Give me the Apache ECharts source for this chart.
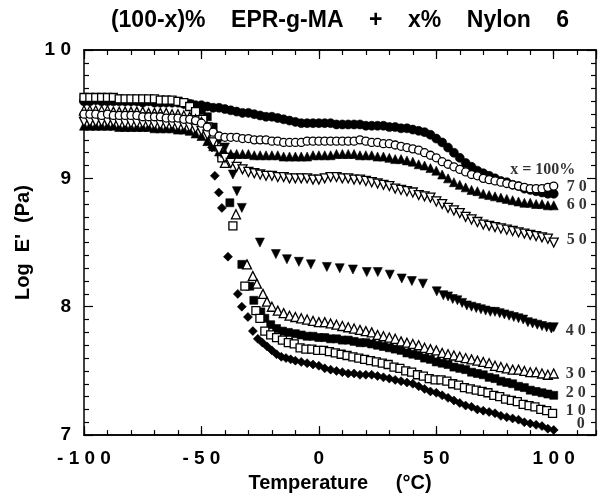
<!DOCTYPE html>
<html><head><meta charset="utf-8">
<script src="https://cdn.jsdelivr.net/npm/echarts@6/dist/echarts.min.js"></script>
<style>html,body{margin:0;padding:0;background:#fff}#c{width:604px;height:498px}</style>
</head><body><div id="c"></div>
<script>
// ---- data (temperature °C, log E' Pa) ----
const xTickLabels = [-100, -50, 0, 50, 100];
const yTickLabels = [7, 8, 9, 10];

const s100 = [[-100,9.60],[-97.5,9.60],[-95,9.61],[-92.5,9.60],[-90,9.60],[-87.5,9.60],[-85,9.60],[-82.5,9.60],[-80,9.60],[-77.5,9.60],[-75,9.59],[-72.5,9.60],[-70,9.59],[-67.5,9.59],[-65,9.59],[-62.5,9.59],[-60,9.59],[-57.5,9.58],[-55,9.58],[-52.5,9.57],[-50,9.57],[-47.5,9.56],[-45,9.55],[-42.5,9.55],[-40,9.54],[-37.5,9.53],[-35,9.52],[-32.5,9.51],[-30,9.51],[-27.5,9.50],[-25,9.49],[-22.5,9.48],[-20,9.48],[-17.5,9.47],[-15,9.46],[-12.5,9.45],[-10,9.44],[-7.5,9.43],[-5,9.43],[-2.5,9.43],[0,9.43],[2.5,9.43],[5,9.43],[7.5,9.42],[10,9.42],[12.5,9.42],[15,9.42],[17.5,9.42],[20,9.41],[22.5,9.41],[25,9.41],[27.5,9.41],[30,9.40],[32.5,9.40],[35,9.39],[37.5,9.39],[40,9.38],[42.5,9.37],[45,9.36],[47.5,9.34],[50,9.31],[52.5,9.28],[55,9.24],[57.5,9.20],[60,9.16],[62.5,9.12],[65,9.09],[67.5,9.06],[70,9.04],[72.5,9.02],[75,9.00],[77.5,8.98],[80,8.97],[82.5,8.95],[85,8.94],[87.5,8.92],[90,8.91],[92.5,8.90],[95,8.89],[97.5,8.88],[100,8.88]];

const s70 = [[-100,9.50],[-97.5,9.50],[-95,9.50],[-92.5,9.49],[-90,9.50],[-87.5,9.49],[-85,9.49],[-82.5,9.49],[-80,9.49],[-77.5,9.49],[-75,9.48],[-72.5,9.48],[-70,9.48],[-67.5,9.48],[-65,9.47],[-62.5,9.47],[-60,9.47],[-57.5,9.46],[-55,9.46],[-52.5,9.45],[-50,9.43],[-47.5,9.40],[-45,9.36],[-42.5,9.33],[-40,9.32],[-37.5,9.32],[-35,9.32],[-32.5,9.31],[-30,9.31],[-27.5,9.30],[-25,9.30],[-22.5,9.30],[-20,9.29],[-17.5,9.29],[-15,9.28],[-12.5,9.28],[-10,9.28],[-7.5,9.28],[-5,9.29],[-2.5,9.29],[0,9.29],[2.5,9.29],[5,9.29],[7.5,9.29],[10,9.29],[12.5,9.29],[15,9.29],[17.5,9.30],[20,9.29],[22.5,9.28],[25,9.28],[27.5,9.27],[30,9.27],[32.5,9.26],[35,9.25],[37.5,9.24],[40,9.23],[42.5,9.22],[45,9.20],[47.5,9.18],[50,9.16],[52.5,9.13],[55,9.11],[57.5,9.09],[60,9.07],[62.5,9.05],[65,9.03],[67.5,9.02],[70,9.00],[72.5,8.99],[75,8.98],[77.5,8.97],[80,8.96],[82.5,8.95],[85,8.94],[87.5,8.93],[90,8.92],[92.5,8.92],[95,8.92],[97.5,8.93],[100,8.94]];

const s60 = [[-100,9.41],[-97.5,9.41],[-95,9.41],[-92.5,9.41],[-90,9.41],[-87.5,9.41],[-85,9.40],[-82.5,9.40],[-80,9.40],[-77.5,9.40],[-75,9.40],[-72.5,9.40],[-70,9.39],[-67.5,9.39],[-65,9.39],[-62.5,9.39],[-60,9.38],[-57.5,9.38],[-55,9.37],[-52.5,9.35],[-50,9.33],[-47.5,9.29],[-45,9.25],[-42.5,9.21],[-40,9.20],[-37.5,9.19],[-35,9.19],[-32.5,9.19],[-30,9.19],[-27.5,9.18],[-25,9.18],[-22.5,9.18],[-20,9.18],[-17.5,9.18],[-15,9.17],[-12.5,9.17],[-10,9.17],[-7.5,9.17],[-5,9.17],[-2.5,9.18],[0,9.18],[2.5,9.18],[5,9.18],[7.5,9.19],[10,9.19],[12.5,9.19],[15,9.19],[17.5,9.18],[20,9.18],[22.5,9.18],[25,9.17],[27.5,9.17],[30,9.16],[32.5,9.15],[35,9.15],[37.5,9.14],[40,9.13],[42.5,9.11],[45,9.10],[47.5,9.08],[50,9.06],[52.5,9.03],[55,9.00],[57.5,8.97],[60,8.95],[62.5,8.93],[65,8.91],[67.5,8.90],[70,8.88],[72.5,8.87],[75,8.86],[77.5,8.85],[80,8.84],[82.5,8.83],[85,8.82],[87.5,8.81],[90,8.81],[92.5,8.80],[95,8.80],[97.5,8.79],[100,8.79]];

const s50 = [[-100,9.44],[-97.5,9.44],[-95,9.44],[-92.5,9.44],[-90,9.44],[-87.5,9.44],[-85,9.43],[-82.5,9.43],[-80,9.43],[-77.5,9.43],[-75,9.43],[-72.5,9.43],[-70,9.42],[-67.5,9.42],[-65,9.42],[-62.5,9.42],[-60,9.41],[-57.5,9.41],[-55,9.40],[-52.5,9.39],[-50,9.37],[-47.5,9.34],[-45,9.28],[-42.5,9.22],[-40,9.16],[-37.5,9.12],[-35,9.09],[-32.5,9.07],[-30,9.05],[-27.5,9.04],[-25,9.03],[-22.5,9.02],[-20,9.02],[-17.5,9.01],[-15,9.01],[-12.5,9.00],[-10,9.00],[-7.5,9.00],[-5,9.00],[-2.5,8.99],[0,8.99],[2.5,9.00],[5,9.01],[7.5,9.01],[10,9.00],[12.5,9.00],[15,8.99],[17.5,8.99],[20,8.98],[22.5,8.97],[25,8.96],[27.5,8.95],[30,8.94],[32.5,8.92],[35,8.91],[37.5,8.90],[40,8.89],[42.5,8.87],[45,8.86],[47.5,8.85],[50,8.82],[52.5,8.80],[55,8.77],[57.5,8.75],[60,8.73],[62.5,8.70],[65,8.68],[67.5,8.66],[70,8.64],[72.5,8.63],[75,8.62],[77.5,8.61],[80,8.60],[82.5,8.59],[85,8.58],[87.5,8.57],[90,8.56],[92.5,8.55],[95,8.54],[97.5,8.53],[100,8.50]];

const s40 = [[-100,9.46],[-97.5,9.46],[-95,9.46],[-92.5,9.46],[-90,9.46],[-87.5,9.46],[-85,9.45],[-82.5,9.45],[-80,9.45],[-77.5,9.45],[-75,9.45],[-72.5,9.45],[-70,9.45],[-67.5,9.44],[-65,9.44],[-62.5,9.44],[-60,9.44],[-57.5,9.43],[-55,9.43],[-52.5,9.42],[-50,9.40],[-47.5,9.37],[-45,9.33],[-42.5,9.29],[-40,9.24],[-37,9.16],[-36.6,9.03],[-34.9,8.90],[-32.8,8.77],[-25.1,8.50],[-18.3,8.41],[-13.6,8.37],[-8.5,8.35],[-3.4,8.33],[3.4,8.31],[8.9,8.30],[14.5,8.29],[20.4,8.27],[25.1,8.27],[30.2,8.25],[35.3,8.22],[39.6,8.20],[44.3,8.18],[50.2,8.12],[53,8.09],[55,8.08],[57,8.06],[59,8.05],[61,8.03],[63,8.01],[65,8.00],[67,7.99],[69,7.98],[71,7.97],[73,7.96],[75,7.96],[77,7.95],[79,7.94],[81,7.93],[83,7.92],[85,7.91],[87,7.90],[89,7.88],[91,7.87],[93,7.86],[95,7.85],[97,7.84],[99,7.83],[100,7.84]];

const s30 = [[-100,9.53],[-97.5,9.53],[-95,9.53],[-92.5,9.53],[-90,9.53],[-87.5,9.52],[-85,9.52],[-82.5,9.52],[-80,9.52],[-77.5,9.52],[-75,9.52],[-72.5,9.51],[-70,9.51],[-67.5,9.51],[-65,9.51],[-62.5,9.50],[-60,9.50],[-57.5,9.49],[-55,9.48],[-52.5,9.46],[-50,9.44],[-47.5,9.40],[-45,9.34],[-42.5,9.25],[-40,9.12],[-35.3,8.72],[-30.6,8.33],[-28.1,8.24],[-26.4,8.18],[-23.8,8.10],[-22.1,8.04],[-20,8.00],[-17.5,7.97],[-15,7.95],[-12.5,7.93],[-10,7.92],[-7.5,7.91],[-5,7.90],[-2.5,7.89],[0,7.88],[2.5,7.88],[5,7.87],[7.5,7.86],[10,7.85],[12.5,7.84],[15,7.83],[17.5,7.82],[20,7.81],[22.5,7.80],[25,7.78],[27.5,7.77],[30,7.76],[32.5,7.75],[35,7.73],[37.5,7.72],[40,7.71],[42.5,7.70],[45,7.68],[47.5,7.67],[50,7.66],[52.5,7.64],[55,7.63],[57.5,7.62],[60,7.61],[62.5,7.60],[65,7.59],[67.5,7.58],[70,7.57],[72.5,7.56],[75,7.54],[77.5,7.53],[80,7.52],[82.5,7.51],[85,7.51],[87.5,7.50],[90,7.49],[92.5,7.49],[95,7.48],[97.5,7.47],[100,7.48]];

const s20 = [[-100,9.62],[-97.5,9.62],[-95,9.62],[-92.5,9.62],[-90,9.62],[-87.5,9.62],[-85,9.62],[-82.5,9.61],[-80,9.61],[-77.5,9.61],[-75,9.61],[-72.5,9.61],[-70,9.61],[-67.5,9.61],[-65,9.61],[-62.5,9.60],[-60,9.60],[-57.5,9.59],[-55,9.58],[-52.5,9.56],[-50,9.53],[-47.5,9.48],[-45,9.40],[-41.5,9.19],[-37.9,8.81],[-32.8,8.33],[-29.4,8.16],[-27.7,8.05],[-24.7,7.96],[-23,7.91],[-20.5,7.86],[-18,7.83],[-15.5,7.81],[-13,7.80],[-10,7.79],[-7.5,7.78],[-5,7.77],[-2.5,7.77],[0,7.76],[2.5,7.76],[5,7.75],[7.5,7.75],[10,7.74],[12.5,7.74],[15,7.73],[17.5,7.72],[20,7.72],[22.5,7.71],[25,7.70],[27.5,7.69],[30,7.68],[32.5,7.67],[35,7.66],[37.5,7.64],[40,7.63],[42.5,7.62],[45,7.60],[47.5,7.59],[50,7.57],[52.5,7.56],[55,7.55],[57.5,7.53],[60,7.52],[62.5,7.51],[65,7.49],[67.5,7.48],[70,7.47],[72.5,7.45],[75,7.44],[77.5,7.42],[80,7.41],[82.5,7.40],[85,7.38],[87.5,7.37],[90,7.35],[92.5,7.34],[95,7.33],[97.5,7.32],[100,7.31]];

const s10 = [[-100,9.63],[-97.5,9.63],[-95,9.63],[-92.5,9.63],[-90,9.63],[-87.5,9.63],[-85,9.62],[-82.5,9.62],[-80,9.62],[-77.5,9.62],[-75,9.62],[-72.5,9.62],[-70,9.62],[-67.5,9.61],[-65,9.61],[-62.5,9.61],[-60,9.60],[-57.5,9.59],[-55,9.56],[-52.5,9.52],[-49.4,9.46],[-47.2,9.40],[-44.3,9.28],[-41.3,9.16],[-36.6,8.63],[-31.5,8.16],[-26.8,7.97],[-25.1,7.91],[-23,7.81],[-20.5,7.78],[-18,7.76],[-15.5,7.74],[-13,7.72],[-10.5,7.71],[-8,7.68],[-5.5,7.67],[-3,7.67],[-0.5,7.66],[2,7.66],[4.5,7.65],[7,7.64],[9.5,7.63],[12,7.62],[14.5,7.61],[17,7.60],[19.5,7.59],[22,7.58],[24.5,7.57],[27,7.56],[29.5,7.55],[32,7.53],[34.5,7.52],[37,7.50],[39.5,7.49],[42,7.47],[44.5,7.46],[47,7.44],[49.5,7.43],[52,7.43],[54.5,7.42],[57,7.40],[59.5,7.39],[62,7.37],[64.5,7.36],[67,7.35],[69.5,7.34],[72,7.33],[74.5,7.31],[77,7.30],[79.5,7.28],[82,7.27],[84.5,7.26],[87,7.24],[89.5,7.23],[92,7.22],[94.5,7.20],[97,7.19],[99.5,7.17]];

const s0 = [[-100,9.61],[-97.5,9.61],[-95,9.61],[-92.5,9.61],[-90,9.61],[-87.5,9.61],[-85,9.61],[-82.5,9.60],[-80,9.60],[-77.5,9.60],[-75,9.60],[-72.5,9.60],[-70,9.60],[-67.5,9.60],[-65,9.60],[-62.5,9.59],[-60,9.59],[-57.5,9.58],[-55,9.56],[-52.5,9.52],[-50,9.46],[-47.5,9.36],[-45.5,9.24],[-44.3,9.02],[-42.6,8.89],[-41.3,8.77],[-38.7,8.39],[-34.5,8.10],[-32.8,8.00],[-30.2,7.92],[-28.1,7.81],[-26,7.75],[-24,7.72],[-22,7.69],[-20,7.66],[-18,7.63],[-16,7.61],[-14,7.60],[-12,7.59],[-10,7.58],[-7.5,7.57],[-5,7.56],[-2.5,7.55],[0,7.54],[2.5,7.52],[5,7.51],[7.5,7.50],[10,7.49],[12.5,7.48],[15,7.48],[17.5,7.47],[20,7.47],[22.5,7.47],[25,7.46],[27.5,7.45],[30,7.44],[32.5,7.43],[35,7.42],[37.5,7.41],[40,7.40],[42.5,7.38],[45,7.36],[47.5,7.34],[50,7.33],[52.5,7.31],[55,7.29],[57.5,7.27],[60,7.25],[62.5,7.23],[65,7.22],[67.5,7.20],[70,7.19],[72.5,7.18],[75,7.17],[77.5,7.15],[80,7.14],[82.5,7.13],[85,7.12],[87.5,7.10],[90,7.09],[92.5,7.08],[95,7.07],[97.5,7.05],[100,7.04]];

// curve annotations (text and anchor in data coordinates)
const curveLabels = ['x = 100%', '7 0', '6 0', '5 0', '4 0', '3 0', '2 0', '1 0', '0'];
const curveLabelAt = [[95.3, 9.07], [109.8, 8.93], [109.8, 8.79], [109.8, 8.52], [109.4, 7.81], [109.4, 7.48], [109.4, 7.33], [109.4, 7.19], [111.5, 7.09]];

// ---- chart ----
const SANS = 'Liberation Sans, Arial, sans-serif';
const SERIF = 'Liberation Serif, Times New Roman, serif';
const spaced = v => String(v).split('').join(' ');

function mk(name, data, symbol, size, filled, rotate) {
  return {
    name, type: 'scatter', data, symbol, symbolSize: size, symbolRotate: rotate || 0,
    xAxisIndex: 0, yAxisIndex: 0, silent: true,
    itemStyle: filled ? { color: '#000', borderColor: '#000', borderWidth: 0.6, opacity: 1 }
                      : { color: '#fff', borderColor: '#000', borderWidth: 1.3, opacity: 1 }
  };
}

const XMIN = -100, XMAX = 118;
const axisLine = { show: true, onZero: false, lineStyle: { color: '#000', width: 1.5 } };
function xAx(pos, interval, len, labels) {
  return {
    type: 'value', position: pos, min: XMIN, max: XMAX, interval,
    axisLine, splitLine: { show: false },
    axisTick: { show: true, inside: true, length: len, lineStyle: { color: '#000', width: 1.2 } },
    axisLabel: labels ? {
      show: true, margin: 14, color: '#000', fontFamily: SANS, fontWeight: 'bold', fontSize: 19,
      showMaxLabel: false,
      formatter: v => xTickLabels.indexOf(v) >= 0 ? spaced(v) : ''
    } : { show: false },
    name: labels && pos === 'bottom' ? 'Temperature     (°C)' : '',
    nameLocation: 'middle', nameGap: 36,
    nameTextStyle: { color: '#000', fontFamily: SANS, fontWeight: 'bold', fontSize: 20 }
  };
}
function yAx(pos, labels) {
  return {
    type: 'value', position: pos, min: 7, max: 10, interval: 1,
    axisLine, splitLine: { show: false },
    axisTick: { show: true, inside: true, length: 9, lineStyle: { color: '#000', width: 1.2 } },
    minorTick: { show: true, splitNumber: 10, length: 5, lineStyle: { color: '#000', width: 1.2 } },
    minorSplitLine: { show: false },
    axisLabel: labels ? {
      show: true, margin: 13, color: '#000', fontFamily: SANS, fontWeight: 'bold', fontSize: 19,
      formatter: v => yTickLabels.indexOf(v) >= 0 ? spaced(v) : ''
    } : { show: false },
    name: labels ? "Log  E'  (Pa)" : '',
    nameLocation: 'middle', nameGap: 50, nameRotate: 90,
    nameTextStyle: { color: '#000', fontFamily: SANS, fontWeight: 'bold', fontSize: 20 }
  };
}

const chart = echarts.init(document.getElementById('c'), null, { renderer: 'canvas' });
chart.setOption({
  animation: false,
  backgroundColor: '#fff',
  title: {
    text: '(100-x)%    EPR-g-MA    +    x%    Nylon    6', left: 340, top: 9, textAlign: 'center', padding: 0,
    textStyle: { color: '#000', fontFamily: SANS, fontWeight: 'bold', fontSize: 23 }
  },
  grid: { left: 84, right: 8, top: 50, bottom: 61, containLabel: false },
  xAxis: [xAx('bottom', 50, 9, true), xAx('bottom', 10, 5, false), xAx('top', 50, 9, false), xAx('top', 10, 5, false)],
  yAxis: [yAx('left', true), yAx('right', false)],
  series: [
    mk('100%', s100, 'circle', 9, true),
    mk('0%', s0, 'diamond', 9, true),
    mk('20%', s20, 'rect', 8, true),
    mk('10%', s10, 'rect', 8, false),
    mk('60%', s60, 'triangle', 9, true),
    mk('40%', s40, 'triangle', 9, true, 180),
    mk('30%', s30, 'triangle', 9, false),
    mk('50%', s50, 'triangle', 9, false, 180),
    mk('70%', s70, 'circle', 8, false),
    {
      type: 'scatter', silent: true, symbolSize: 1, itemStyle: { color: 'rgba(0,0,0,0)' },
      data: curveLabelAt.map((p, i) => ({ value: p, name: curveLabels[i] })),
      label: {
        show: true, position: 'inside', formatter: p => p.name,
        color: '#000', fontFamily: SERIF, fontWeight: 'bold', fontSize: 16
      }
    }
  ]
});
</script>
</body></html>
